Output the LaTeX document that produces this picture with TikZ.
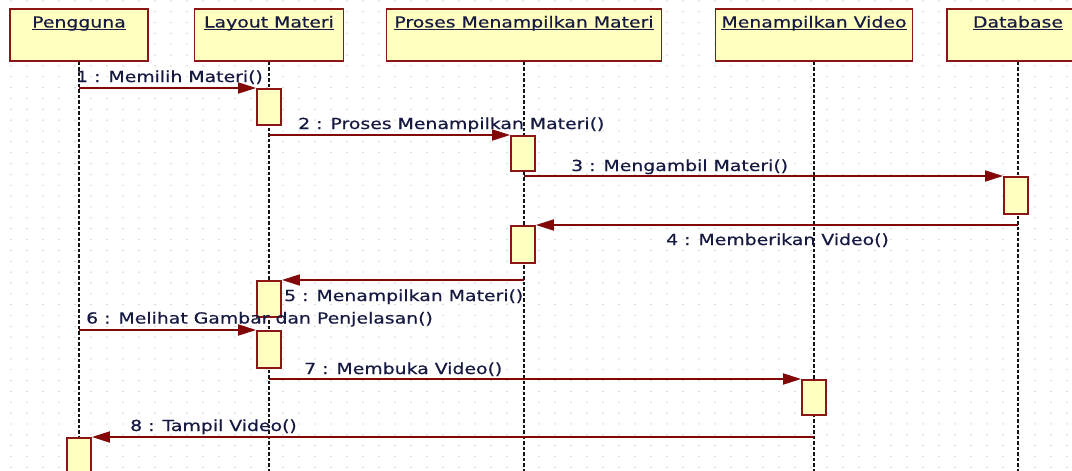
\documentclass[tikz,border=0pt]{standalone}
\usepackage{fontspec}
\setmainfont{DejaVu Sans}[FakeStretch=1.24,FakeBold=0.6]
\usetikzlibrary{arrows.meta}
\definecolor{boxfill}{RGB}{255,255,192}
\definecolor{boxline}{RGB}{140,22,22}
\definecolor{msgline}{RGB}{130,8,8}
\definecolor{txt}{RGB}{22,26,66}
\definecolor{griddot}{RGB}{190,190,190}
\definecolor{lifeclr}{RGB}{20,20,20}
\begin{document}
\begin{tikzpicture}[x=1pt,y=-1pt,
  headbox/.style={draw=boxline, fill=boxfill, line width=1.8pt, minimum height=52pt, inner sep=0pt, anchor=north},
  titletext/.style={text=txt, font=\fontsize{15.2}{17}\selectfont, anchor=base, inner sep=0pt},
  actbox/.style={draw=boxline, fill=boxfill, line width=1.8pt, minimum width=24pt, minimum height=36pt, inner sep=0pt, anchor=north},
  lifeline/.style={draw=lifeclr, line width=2.4pt, dash pattern=on 3.5pt off 2pt},
  msgarrow/.style={draw=msgline, line width=1.8pt, -{Triangle[length=18pt,width=11pt]}},
  msglabel/.style={text=txt, font=\fontsize{15.2}{17}\selectfont, anchor=base west, inner sep=0pt},
  uline/.style={draw=txt, line width=1pt}
]
\useasboundingbox (0,0) rectangle (1072,471);
\fill[white] (0,0) rectangle (1072,471);
% grid dots
\foreach \gx in {11,27,...,1072}{
  \foreach \gk in {0,...,43}{
    \fill[griddot] (\gx,{0.8+10.85*\gk}) circle (0.7pt);
  }
}
% heads
\node[headbox, minimum width=138pt] (P) at (79,8) {};
\node[headbox, minimum width=149pt] (L) at (269,8) {};
\node[headbox, minimum width=275pt] (PM) at (524,8) {};
\node[headbox, minimum width=197pt] (V) at (814,8) {};
\node[headbox, minimum width=142pt] (D) at (1018,8) {};
\node[titletext] (tP) at (79,27.5) {Pengguna};
\node[titletext] (tL) at (269,27.5) {Layout Materi};
\node[titletext] (tPM) at (524,27.5) {Proses Menampilkan Materi};
\node[titletext] (tV) at (814,27.5) {Menampilkan Video};
\node[titletext] (tD) at (1018,27.5) {Database};
\foreach \t in {tP,tL,tPM,tV,tD}{
  \draw[uline] ([yshift=-2.3pt]\t.base west) -- ([yshift=-2.3pt]\t.base east);
}
% lifelines
\coordinate (Pend) at (79,471);
\coordinate (Lend) at (269,471);
\coordinate (PMend) at (524,471);
\coordinate (Vend) at (814,471);
\coordinate (Dend) at (1018,471);
\draw[lifeline] (P.south) -- (Pend);
\draw[lifeline] (L.south) -- (Lend);
\draw[lifeline] (PM.south) -- (PMend);
\draw[lifeline] (V.south) -- (Vend);
\draw[lifeline] (D.south) -- (Dend);
% activations
\node[actbox] (L1) at (269,88) {};
\node[actbox, minimum height=35pt] (PM1) at (523,135) {};
\node[actbox, minimum height=37pt] (D1) at (1016,176) {};
\node[actbox, minimum height=37pt] (PM2) at (523,225) {};
\node[actbox] (L2) at (269,280) {};
\node[actbox, minimum height=37pt] (L3) at (269,330) {};
\node[actbox, minimum height=35pt] (V1) at (814,379) {};
\node[actbox, minimum height=40pt] (U1) at (79,437) {};
% messages
\draw[msgarrow] (P |- L1.north west) -- (L1.north west);
\draw[msgarrow] (L |- PM1.north west) -- (PM1.north west);
\draw[msgarrow] (PM |- D1.north west) -- (D1.north west);
\draw[msgarrow] (D |- PM2.north east) -- (PM2.north east);
\draw[msgarrow] (PM |- L2.north east) -- (L2.north east);
\draw[msgarrow] (P |- L3.north west) -- (L3.north west);
\draw[msgarrow] (L |- V1.north west) -- (V1.north west);
\draw[msgarrow] (V |- U1.north east) -- (U1.north east);
% labels
\node[msglabel] (m1) at (76,82) {1 : Memilih Materi()};
\node[msglabel] (m2) at (298,129) {2 : Proses Menampilkan Materi()};
\node[msglabel] (m3) at (571,171) {3 : Mengambil Materi()};
\node[msglabel] (m4) at (666,245) {4 : Memberikan Video()};
\node[msglabel] (m5) at (284,301) {5 : Menampilkan Materi()};
\node[msglabel] (m6) at (86,323.5) {6 : Melihat Gambar dan Penjelasan()};
\node[msglabel] (m7) at (304,374) {7 : Membuka Video()};
\node[msglabel] (m8) at (130,431) {8 : Tampil Video()};
\end{tikzpicture}
\end{document}
